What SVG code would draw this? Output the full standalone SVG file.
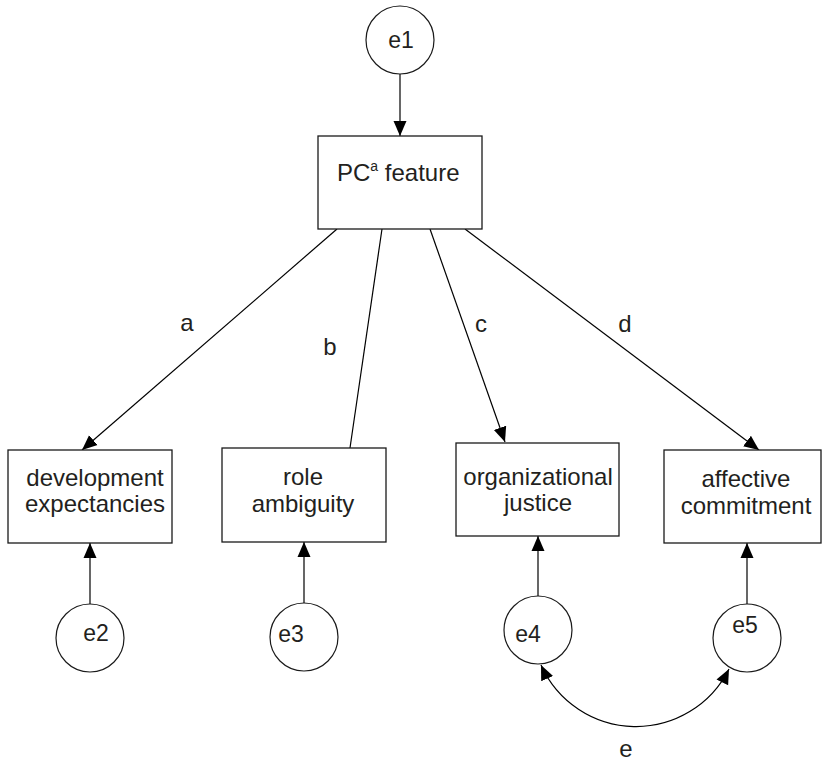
<svg xmlns="http://www.w3.org/2000/svg" width="822" height="761" viewBox="0 0 822 761">
<defs>
<marker id="arr" markerUnits="userSpaceOnUse" markerWidth="15" markerHeight="15" viewBox="0 0 15 14" refX="15" refY="7" orient="auto-start-reverse">
<path d="M0,0.5 L15,7 L0,13.5 Z" fill="#000"/>
</marker>
<style>
.box{fill:#fff;stroke:#1a1a1a;stroke-width:1.3}
.circ{fill:#fff;stroke:#1a1a1a;stroke-width:1.2}
.t{font-family:"Liberation Sans",Arial,sans-serif;font-size:24px;fill:#231f20;text-anchor:middle}
.ct{font-family:"Liberation Sans",Arial,sans-serif;font-size:23px;fill:#231f20;text-anchor:middle}
.ln{fill:none;stroke:#000;stroke-width:1.2}
</style>
</defs>
<rect width="822" height="761" fill="#fff"/>
<g id="connectors">
<line class="ln" x1="400" y1="74" x2="400" y2="136" marker-end="url(#arr)"/>
<line class="ln" x1="337" y1="229" x2="82" y2="450" marker-end="url(#arr)"/>
<line class="ln" x1="382" y1="229" x2="350" y2="448"/>
<line class="ln" x1="430" y1="229" x2="505" y2="442" marker-end="url(#arr)"/>
<line class="ln" x1="465" y1="229" x2="759" y2="450" marker-end="url(#arr)"/>
<line class="ln" x1="90" y1="604" x2="90" y2="543" marker-end="url(#arr)"/>
<line class="ln" x1="304" y1="603" x2="304" y2="542" marker-end="url(#arr)"/>
<line class="ln" x1="538" y1="596" x2="538" y2="536" marker-end="url(#arr)"/>
<line class="ln" x1="747" y1="604" x2="747" y2="543" marker-end="url(#arr)"/>
<path class="ln" d="M541,665 A104,104 0 0 0 729,669" marker-start="url(#arr)" marker-end="url(#arr)"/>
</g>
<g id="e1"><circle class="circ" cx="400" cy="40" r="34"/><text class="ct" x="401" y="48">e1</text></g>
<g id="pc"><rect class="box" x="318" y="136" width="164" height="93"/><text class="t" x="337" y="181" style="text-anchor:start">PC<tspan font-size="14" dy="-10">a</tspan><tspan dy="10"> feature</tspan></text></g>
<g id="dev"><rect class="box" x="8" y="450" width="164" height="93"/><text class="t" x="95" y="486">development</text><text class="t" x="95" y="512">expectancies</text></g>
<g id="role"><rect class="box" x="222" y="448" width="164" height="94"/><text class="t" x="303" y="485">role</text><text class="t" x="303" y="512">ambiguity</text></g>
<g id="org"><rect class="box" x="456" y="443" width="163" height="93"/><text class="t" x="538" y="485">organizational</text><text class="t" x="538" y="511">justice</text></g>
<g id="aff"><rect class="box" x="664" y="450" width="157" height="93"/><text class="t" x="746" y="487">affective</text><text class="t" x="746" y="514">commitment</text></g>
<g id="e2"><circle class="circ" cx="90" cy="638" r="34"/><text class="ct" x="96" y="641">e2</text></g>
<g id="e3"><circle class="circ" cx="304" cy="637" r="34"/><text class="ct" x="291" y="642">e3</text></g>
<g id="e4"><circle class="circ" cx="538" cy="630" r="34"/><text class="ct" x="528" y="642">e4</text></g>
<g id="e5"><circle class="circ" cx="747" cy="638" r="34"/><text class="ct" x="745" y="633">e5</text></g>
<g id="labels">
<text class="t" x="187" y="331">a</text>
<text class="t" x="330" y="355">b</text>
<text class="t" x="481" y="332">c</text>
<text class="t" x="625" y="332">d</text>
<text class="t" x="626" y="757">e</text>
</g>
</svg>
